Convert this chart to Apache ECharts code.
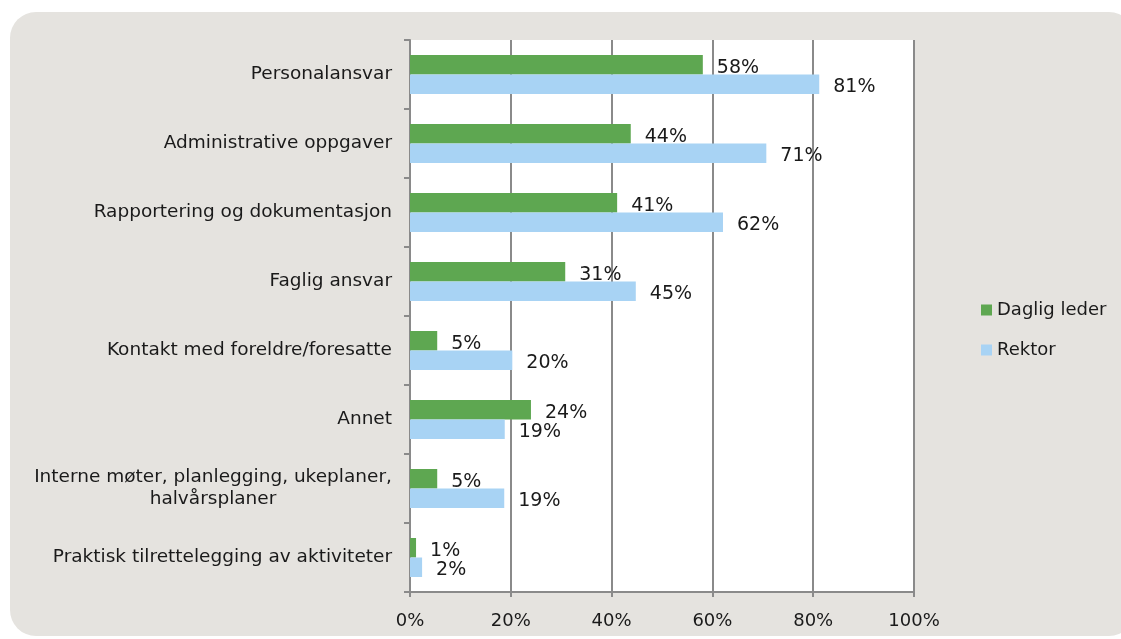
<!DOCTYPE html>
<html>
<head>
<meta charset="utf-8">
<script src="https://cdn.jsdelivr.net/npm/echarts@6/dist/echarts.min.js"></script>
<style>
  html, body { margin: 0; padding: 0; background: #fff; }
  #box { position: absolute; left: 10px; top: 12px; width: 1125px; height: 624px;
         background: #e5e3df; border-radius: 26px; }
  #container { position: absolute; left: 0; top: 0; width: 1121px; height: 639px; }
</style>
</head>
<body>
<div id="box"></div>
<div id="container"></div>
<script>
let categories = [
  'Personalansvar',
  'Administrative oppgaver',
  'Rapportering og dokumentasjon',
  'Faglig ansvar',
  'Kontakt med foreldre/foresatte',
  'Annet',
  'Interne møter, planlegging, ukeplaner,\nhalvårsplaner',
  'Praktisk tilrettelegging av aktiviteter'
];
let dagligLeder = [58.1, 43.8, 41.1, 30.8, 5.4, 24.0, 5.4, 1.2];
let rektor = [81.2, 70.7, 62.1, 44.8, 20.3, 18.8, 18.7, 2.4];
let xTicks = [0, 20, 40, 60, 80, 100];

let font = "'DejaVu Sans', Verdana, sans-serif";
let gray = '#8a8a8a';
let catSize = 18.5;

// width of the longest line of the two-line label, so both lines can be centred
let ctx = document.createElement('canvas').getContext('2d');
ctx.font = catSize + 'px ' + font;
let multiWidth = 0;
categories.forEach(function (c) {
  if (c.indexOf('\n') >= 0) {
    c.split('\n').forEach(function (s) { multiWidth = Math.max(multiWidth, Math.ceil(ctx.measureText(s).width)); });
  }
});

let option = {
  backgroundColor: 'transparent',
  textStyle: { fontFamily: font },
  grid: {
    left: 410, top: 40, right: 207, bottom: 47,
    show: true, backgroundColor: '#fff', borderWidth: 0
  },
  legend: {
    orient: 'vertical',
    left: 976, top: 296,
    icon: 'rect',
    itemWidth: 11, itemHeight: 11, itemGap: 22,
    textStyle: { color: '#1a1a1a', fontSize: 18, fontFamily: font },
    data: ['Daglig leder', 'Rektor']
  },
  xAxis: {
    type: 'value',
    min: 0, max: 100, interval: 20,
    axisLine: { show: true, lineStyle: { color: gray, width: 2 } },
    axisTick: { show: true, length: 5, lineStyle: { color: gray, width: 2 } },
    splitLine: { show: true, lineStyle: { color: gray, width: 2 } },
    axisLabel: {
      color: '#1a1a1a', fontSize: 18, margin: 20, fontFamily: font,
      formatter: function (v) { return xTicks.indexOf(v) >= 0 ? v + '%' : ''; }
    }
  },
  yAxis: {
    type: 'category',
    inverse: true,
    data: categories,
    axisLine: { show: true, lineStyle: { color: gray, width: 2 } },
    axisTick: { show: true, length: 6, lineStyle: { color: gray, width: 2 } },
    axisLabel: {
      color: '#1a1a1a', fontSize: catSize, margin: 18, lineHeight: 22, fontFamily: font,
      formatter: function (v) {
        if (v.indexOf('\n') >= 0) {
          return v.split('\n').map(function (s) { return '{c|' + s + '}'; }).join('\n');
        }
        return v;
      },
      rich: { c: { width: multiWidth, align: 'center', fontSize: catSize, lineHeight: 22, color: '#1a1a1a', fontFamily: font } }
    }
  },
  series: [
    {
      name: 'Daglig leder', type: 'bar', data: dagligLeder,
      barWidth: 19.5, barGap: '0%', barCategoryGap: '43%',
      itemStyle: { color: '#5ea751' },
      label: {
        show: true, position: 'right', distance: 14, offset: [0, 3],
        color: '#1a1a1a', fontSize: 19, fontFamily: font,
        formatter: function (p) { return Math.round(p.value) + '%'; }
      }
    },
    {
      name: 'Rektor', type: 'bar', data: rektor,
      barWidth: 19.5, barGap: '0%',
      itemStyle: { color: '#a8d3f4' },
      label: {
        show: true, position: 'right', distance: 14, offset: [0, 3],
        color: '#1a1a1a', fontSize: 19, fontFamily: font,
        formatter: function (p) { return Math.round(p.value) + '%'; }
      }
    }
  ]
};

let myChart = echarts.init(document.getElementById('container'));
myChart.setOption(option);
</script>
</body>
</html>
